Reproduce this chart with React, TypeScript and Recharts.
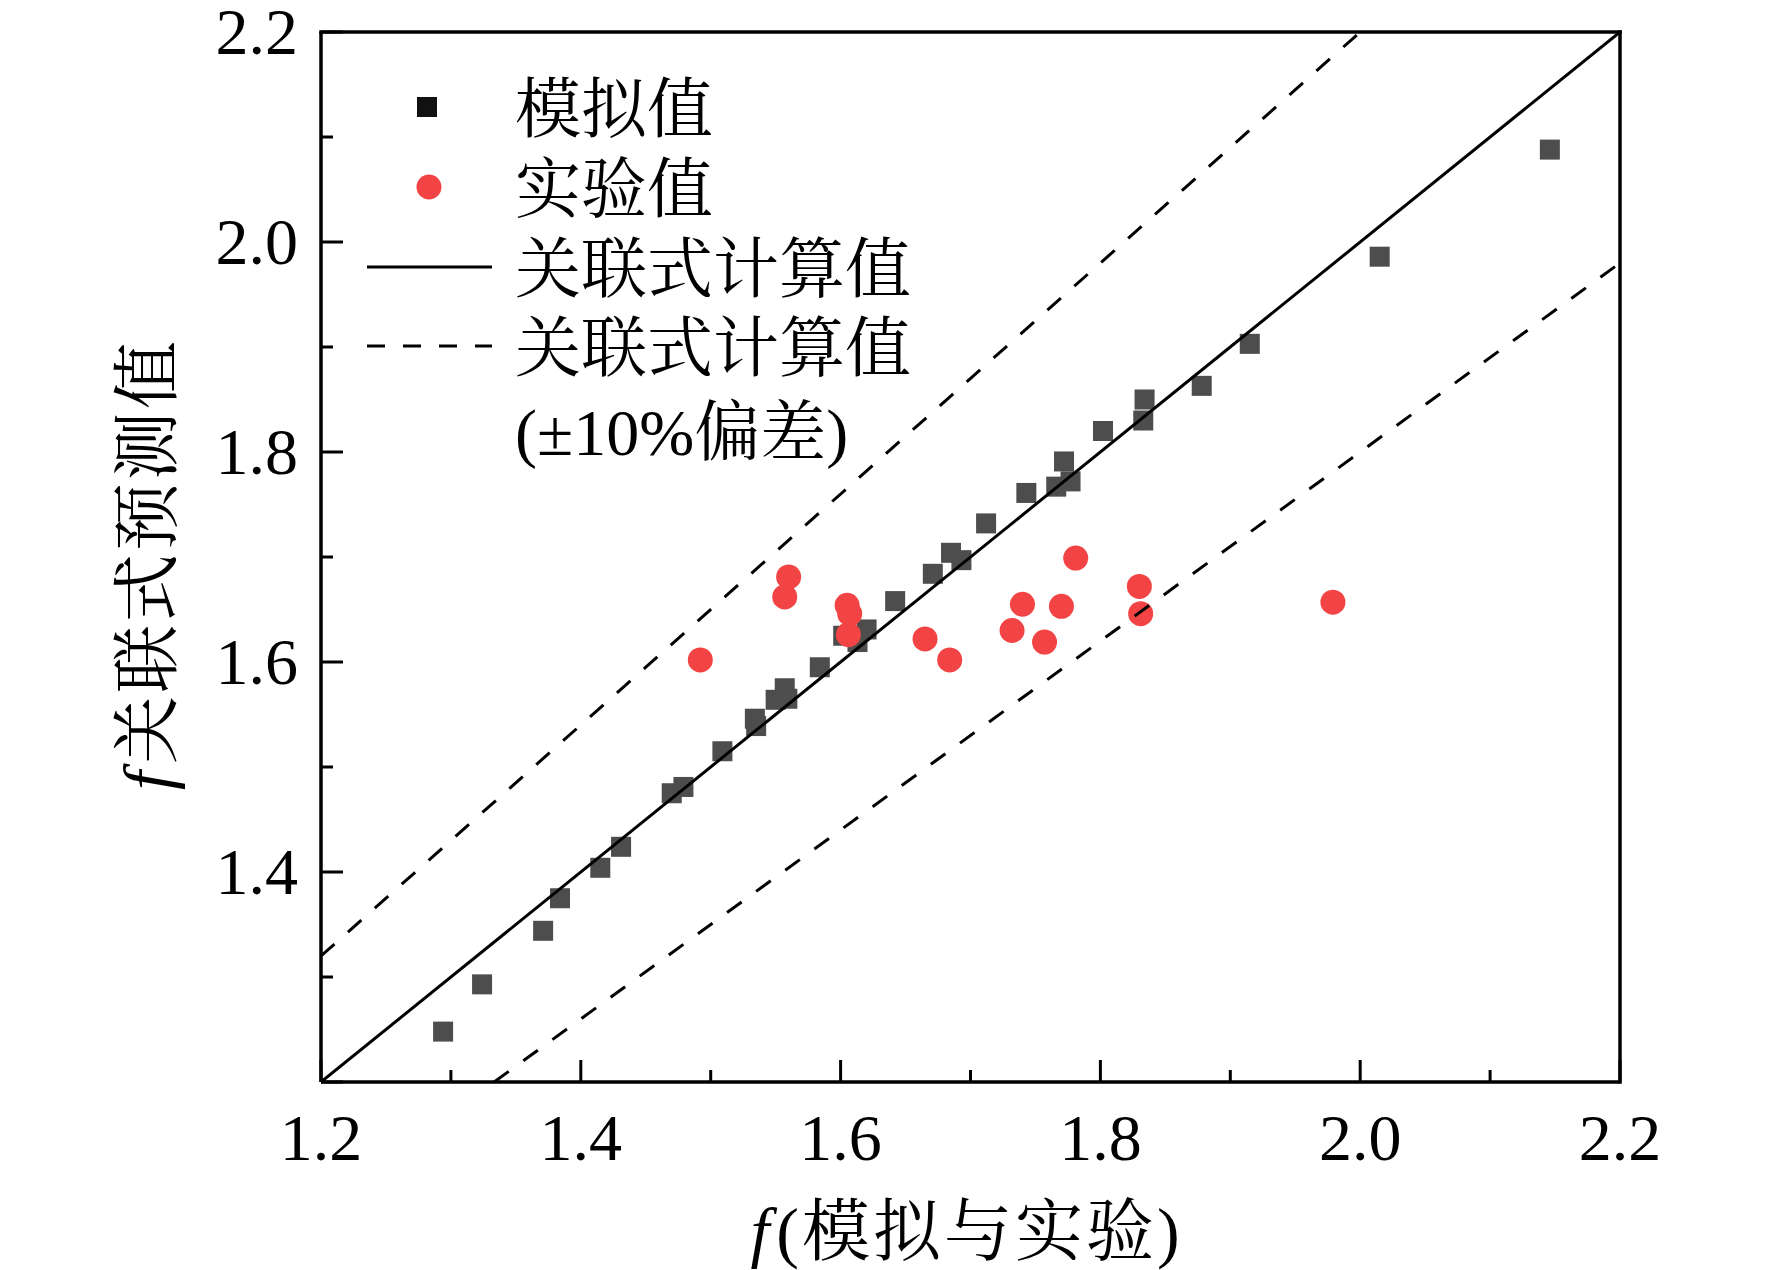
import React from 'react';
import { ScatterChart, Scatter, XAxis, YAxis, ReferenceLine, Legend } from 'recharts';

// 模拟值 (simulation) points
const simX = [1.294, 1.324, 1.371, 1.384, 1.415, 1.431, 1.470, 1.479, 1.509, 1.534, 1.535, 1.550, 1.557, 1.559, 1.584, 1.602, 1.620, 1.613, 1.642, 1.671, 1.685, 1.693, 1.712, 1.743, 1.766, 1.772, 1.777, 1.802, 1.833, 1.834, 1.878, 1.915, 2.015, 2.146];
const simY = [1.248, 1.293, 1.344, 1.375, 1.404, 1.424, 1.475, 1.481, 1.515, 1.546, 1.539, 1.564, 1.575, 1.565, 1.595, 1.625, 1.631, 1.619, 1.658, 1.684, 1.704, 1.697, 1.732, 1.761, 1.767, 1.791, 1.772, 1.820, 1.830, 1.850, 1.863, 1.903, 1.986, 2.088];

// 实验值 (experiment) points
const expX = [1.492, 1.560, 1.557, 1.605, 1.607, 1.606, 1.665, 1.684, 1.740, 1.732, 1.757, 1.770, 1.781, 1.830, 1.831, 1.979];
const expY = [1.602, 1.681, 1.662, 1.654, 1.646, 1.626, 1.622, 1.602, 1.655, 1.630, 1.619, 1.653, 1.699, 1.672, 1.646, 1.657];

// correlation lines: y = x, y = 1.1x, y = 0.9x (end points inside the frame)
const fitX = [1.2, 2.2];
const fitY = [1.2, 2.2];
const upperX = [1.2, 2.0];
const upperY = [1.32, 2.2];
const lowerX = [1.3333, 2.2];
const lowerY = [1.2, 1.98];

const xTicks = [1.2, 1.3, 1.4, 1.5, 1.6, 1.7, 1.8, 1.9, 2.0, 2.1, 2.2];
const yTicks = [1.2, 1.3, 1.4, 1.5, 1.6, 1.7, 1.8, 1.9, 2.0, 2.1, 2.2];

const legendLabels = ['模拟值', '实验值', '关联式计算值', '关联式计算值', '(±10%偏差)'];
const xTitleItalic = 'f';
const xTitleRest = '(模拟与实验)';
const yTitleItalic = 'f';
const yTitleRest = '关联式预测值';

const simData = simX.map((x, i) => ({ x, y: simY[i] }));
const expData = expX.map((x, i) => ({ x, y: expY[i] }));
const fitData = fitX.map((x, i) => ({ x, y: fitY[i] }));
const upperData = upperX.map((x, i) => ({ x, y: upperY[i] }));
const lowerData = lowerX.map((x, i) => ({ x, y: lowerY[i] }));

const FONT = "'Liberation Serif', 'Times New Roman', 'Noto Serif CJK SC', 'Noto Sans CJK SC', serif";
const SQ = '#4d4d4d';
const RED = '#f24444';
const DASH = '18 18';

const isMajor = (v: number) => Math.round(v * 10) % 2 === 0;

const XTick = (props: any) => {
  const { x, y, payload } = props;
  const v = payload.value as number;
  const major = isMajor(v);
  return (
    <g>
      <line x1={x} y1={y} x2={x} y2={y - (major ? 22 : 12)} stroke="#000" strokeWidth={3} />
      {major && (
        <text x={x} y={y + 78} textAnchor="middle" fontFamily={FONT} fontSize={66} fill="#000">
          {v.toFixed(1)}
        </text>
      )}
    </g>
  );
};

const YTick = (props: any) => {
  const { x, y, payload } = props;
  const v = payload.value as number;
  const major = isMajor(v);
  const showLabel = major && Math.abs(v - 1.2) > 1e-6;
  return (
    <g>
      <line x1={x} y1={y} x2={x + (major ? 22 : 12)} y2={y} stroke="#000" strokeWidth={3} />
      {showLabel && (
        <text x={x - 23} y={y + 22} textAnchor="end" fontFamily={FONT} fontSize={66} fill="#000">
          {v.toFixed(1)}
        </text>
      )}
    </g>
  );
};

const SquareShape = (props: any) => {
  const { cx, cy } = props;
  return <rect x={cx - 10} y={cy - 10} width={20} height={20} fill={SQ} />;
};

const CircleShape = (props: any) => {
  const { cx, cy } = props;
  return <circle cx={cx} cy={cy} r={12.5} fill={RED} />;
};

const NoShape = () => <g />;

const XTitle = (props: any) => {
  const vb = props.viewBox || {};
  const cx = (vb.x ?? 321) + (vb.width ?? 1299) / 2 - 4;
  return (
    <text x={cx} y={1255} textAnchor="middle" fontFamily={FONT} fontSize={68} letterSpacing={3} fill="#000">
      <tspan fontStyle="italic">{xTitleItalic}</tspan>
      <tspan dx={4}>{xTitleRest}</tspan>
    </text>
  );
};

const YTitle = () => {
  const x = 171;
  const y = 564;
  return (
    <text x={x} y={y} transform={`rotate(-90, ${x}, ${y})`} textAnchor="middle" fontFamily={FONT} fontSize={68} letterSpacing={3} fill="#000">
      <tspan fontStyle="italic">{yTitleItalic}</tspan>
      <tspan dx={4}>{yTitleRest}</tspan>
    </text>
  );
};

const LegendContent = () => {
  const textX = 515;
  const rows = [107, 187, 267, 346, 430];
  return (
    <svg width={1000} height={480} style={{ display: 'block' }}>
      <rect x={417} y={rows[0] - 10} width={20} height={20} fill="#111" />
      <circle cx={429} cy={rows[1]} r={12.5} fill={RED} />
      <line x1={367} y1={rows[2]} x2={492} y2={rows[2]} stroke="#000" strokeWidth={3} />
      <line x1={367} y1={rows[3]} x2={492} y2={rows[3]} stroke="#000" strokeWidth={3} strokeDasharray={DASH} />
      {legendLabels.map((t, i) => (
        <text key={i} x={textX} y={rows[i] + 25} fontFamily={FONT} fontSize={66} fill="#000">
          {t}
        </text>
      ))}
    </svg>
  );
};

export default function App() {
  return (
    <div style={{ position: 'absolute', left: 0, top: 0, width: 1772, height: 1270, background: '#fff' }}>
      <ScatterChart width={1772} height={1270} margin={{ top: 32, right: 152, bottom: 0, left: 0 }}>
        <XAxis
          type="number"
          dataKey="x"
          domain={[1.2, 2.2]}
          allowDataOverflow
          ticks={xTicks}
          interval={0}
          height={188}
          tickSize={0}
          tickMargin={0}
          tickLine={false}
          axisLine={{ stroke: '#000', strokeWidth: 3.5 }}
          tick={(p: any) => <XTick {...p} />}
          label={{ content: (p: any) => <XTitle {...p} /> }}
        />
        <YAxis
          type="number"
          dataKey="y"
          domain={[1.2, 2.2]}
          allowDataOverflow
          ticks={yTicks}
          interval={0}
          width={321}
          tickSize={0}
          tickMargin={0}
          tickLine={false}
          axisLine={{ stroke: '#000', strokeWidth: 3.5 }}
          tick={(p: any) => <YTick {...p} />}
          label={{ content: () => <YTitle /> }}
        />
        <ReferenceLine y={2.2} stroke="#000" strokeWidth={3.5} strokeLinecap="square" />
        <ReferenceLine x={2.2} stroke="#000" strokeWidth={3.5} strokeLinecap="square" />
        <Scatter name="模拟值" data={simData} shape={SquareShape} isAnimationActive={false} />
        <Scatter name="实验值" data={expData} shape={CircleShape} isAnimationActive={false} />
        <Scatter name="关联式计算值" data={fitData} shape={NoShape} line={{ stroke: '#000', strokeWidth: 3 }} isAnimationActive={false} />
        <Scatter name="上偏差" data={upperData} shape={NoShape} line={{ stroke: '#000', strokeWidth: 3, strokeDasharray: DASH }} isAnimationActive={false} />
        <Scatter name="下偏差" data={lowerData} shape={NoShape} line={{ stroke: '#000', strokeWidth: 3, strokeDasharray: DASH }} isAnimationActive={false} />
        <Legend
          layout="vertical"
          align="center"
          verticalAlign="middle"
          width={1000}
          height={480}
          wrapperStyle={{ left: 0, top: 0, width: 1000, height: 480, pointerEvents: 'none' }}
          content={() => <LegendContent />}
        />
      </ScatterChart>
    </div>
  );
}
